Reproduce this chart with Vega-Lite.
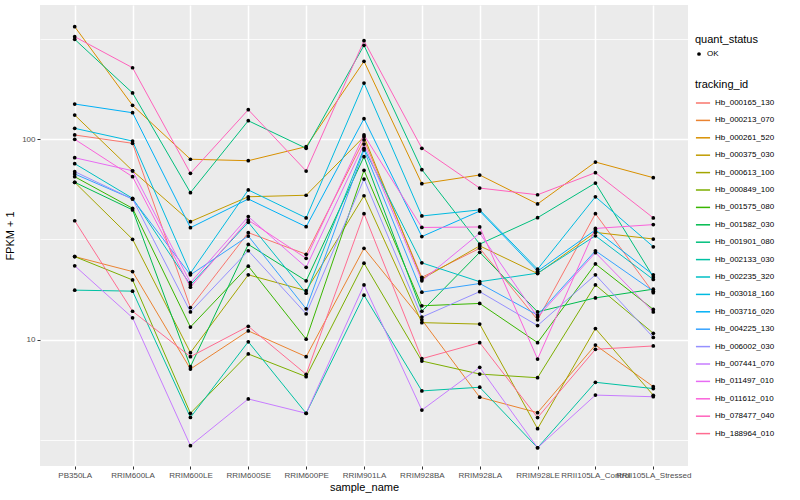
{
"$schema": "https://vega.github.io/schema/vega-lite/v6.json",
"width": 648, "height": 461,
"autosize": {"type": "none"},
"padding": {"left": 40, "top": 5, "right": 112, "bottom": 34},
"background": "white",
"config": {
  "font": "Liberation Sans",
  "view": {"fill": "#EBEBEB", "stroke": null},
  "axis": {"domain": false, "gridColor": "white", "tickColor": "#333333", "tickSize": 3, "labelColor": "#4D4D4D", "labelFontSize": 8, "titleFontSize": 11, "titleFontWeight": "normal", "titleColor": "black"},
  "legend": {"titleFontSize": 11, "titleFontWeight": "normal", "labelFontSize": 8, "labelColor": "black", "titleColor": "black"}
},
"data": {"values": [
{"tracking_id":"Hb_000165_130","sample_name":"PB350LA","fpkm":104.7,"quant_status":"OK"},
{"tracking_id":"Hb_000165_130","sample_name":"RRIM600LA","fpkm":95.2,"quant_status":"OK"},
{"tracking_id":"Hb_000165_130","sample_name":"RRIM600LE","fpkm":14.5,"quant_status":"OK"},
{"tracking_id":"Hb_000165_130","sample_name":"RRIM600SE","fpkm":34.2,"quant_status":"OK"},
{"tracking_id":"Hb_000165_130","sample_name":"RRIM600PE","fpkm":26.7,"quant_status":"OK"},
{"tracking_id":"Hb_000165_130","sample_name":"RRIM901LA","fpkm":98.9,"quant_status":"OK"},
{"tracking_id":"Hb_000165_130","sample_name":"RRIM928BA","fpkm":20.5,"quant_status":"OK"},
{"tracking_id":"Hb_000165_130","sample_name":"RRIM928LA","fpkm":28.6,"quant_status":"OK"},
{"tracking_id":"Hb_000165_130","sample_name":"RRIM928LE","fpkm":12.6,"quant_status":"OK"},
{"tracking_id":"Hb_000165_130","sample_name":"RRII105LA_Control","fpkm":42.5,"quant_status":"OK"},
{"tracking_id":"Hb_000165_130","sample_name":"RRII105LA_Stressed","fpkm":17.2,"quant_status":"OK"},
{"tracking_id":"Hb_000213_070","sample_name":"PB350LA","fpkm":26.0,"quant_status":"OK"},
{"tracking_id":"Hb_000213_070","sample_name":"RRIM600LA","fpkm":21.9,"quant_status":"OK"},
{"tracking_id":"Hb_000213_070","sample_name":"RRIM600LE","fpkm":7.17,"quant_status":"OK"},
{"tracking_id":"Hb_000213_070","sample_name":"RRIM600SE","fpkm":11.1,"quant_status":"OK"},
{"tracking_id":"Hb_000213_070","sample_name":"RRIM600PE","fpkm":8.26,"quant_status":"OK"},
{"tracking_id":"Hb_000213_070","sample_name":"RRIM901LA","fpkm":28.6,"quant_status":"OK"},
{"tracking_id":"Hb_000213_070","sample_name":"RRIM928BA","fpkm":12.6,"quant_status":"OK"},
{"tracking_id":"Hb_000213_070","sample_name":"RRIM928LA","fpkm":5.19,"quant_status":"OK"},
{"tracking_id":"Hb_000213_070","sample_name":"RRIM928LE","fpkm":4.35,"quant_status":"OK"},
{"tracking_id":"Hb_000213_070","sample_name":"RRII105LA_Control","fpkm":9.44,"quant_status":"OK"},
{"tracking_id":"Hb_000213_070","sample_name":"RRII105LA_Stressed","fpkm":5.86,"quant_status":"OK"},
{"tracking_id":"Hb_000261_520","sample_name":"PB350LA","fpkm":362,"quant_status":"OK"},
{"tracking_id":"Hb_000261_520","sample_name":"RRIM600LA","fpkm":147,"quant_status":"OK"},
{"tracking_id":"Hb_000261_520","sample_name":"RRIM600LE","fpkm":79.3,"quant_status":"OK"},
{"tracking_id":"Hb_000261_520","sample_name":"RRIM600SE","fpkm":78.0,"quant_status":"OK"},
{"tracking_id":"Hb_000261_520","sample_name":"RRIM600PE","fpkm":91.6,"quant_status":"OK"},
{"tracking_id":"Hb_000261_520","sample_name":"RRIM901LA","fpkm":243.6,"quant_status":"OK"},
{"tracking_id":"Hb_000261_520","sample_name":"RRIM928BA","fpkm":59.9,"quant_status":"OK"},
{"tracking_id":"Hb_000261_520","sample_name":"RRIM928LA","fpkm":66.2,"quant_status":"OK"},
{"tracking_id":"Hb_000261_520","sample_name":"RRIM928LE","fpkm":47.5,"quant_status":"OK"},
{"tracking_id":"Hb_000261_520","sample_name":"RRII105LA_Control","fpkm":76.8,"quant_status":"OK"},
{"tracking_id":"Hb_000261_520","sample_name":"RRII105LA_Stressed","fpkm":64.2,"quant_status":"OK"},
{"tracking_id":"Hb_000375_030","sample_name":"PB350LA","fpkm":131.6,"quant_status":"OK"},
{"tracking_id":"Hb_000375_030","sample_name":"RRIM600LA","fpkm":69.5,"quant_status":"OK"},
{"tracking_id":"Hb_000375_030","sample_name":"RRIM600LE","fpkm":38.8,"quant_status":"OK"},
{"tracking_id":"Hb_000375_030","sample_name":"RRIM600SE","fpkm":51.6,"quant_status":"OK"},
{"tracking_id":"Hb_000375_030","sample_name":"RRIM600PE","fpkm":52.5,"quant_status":"OK"},
{"tracking_id":"Hb_000375_030","sample_name":"RRIM901LA","fpkm":102.7,"quant_status":"OK"},
{"tracking_id":"Hb_000375_030","sample_name":"RRIM928BA","fpkm":20.1,"quant_status":"OK"},
{"tracking_id":"Hb_000375_030","sample_name":"RRIM928LA","fpkm":29.4,"quant_status":"OK"},
{"tracking_id":"Hb_000375_030","sample_name":"RRIM928LE","fpkm":21.4,"quant_status":"OK"},
{"tracking_id":"Hb_000375_030","sample_name":"RRII105LA_Control","fpkm":34.3,"quant_status":"OK"},
{"tracking_id":"Hb_000375_030","sample_name":"RRII105LA_Stressed","fpkm":31.8,"quant_status":"OK"},
{"tracking_id":"Hb_000613_100","sample_name":"PB350LA","fpkm":60.9,"quant_status":"OK"},
{"tracking_id":"Hb_000613_100","sample_name":"RRIM600LA","fpkm":31.7,"quant_status":"OK"},
{"tracking_id":"Hb_000613_100","sample_name":"RRIM600LE","fpkm":8.65,"quant_status":"OK"},
{"tracking_id":"Hb_000613_100","sample_name":"RRIM600SE","fpkm":21.1,"quant_status":"OK"},
{"tracking_id":"Hb_000613_100","sample_name":"RRIM600PE","fpkm":17.6,"quant_status":"OK"},
{"tracking_id":"Hb_000613_100","sample_name":"RRIM901LA","fpkm":52.2,"quant_status":"OK"},
{"tracking_id":"Hb_000613_100","sample_name":"RRIM928BA","fpkm":12.2,"quant_status":"OK"},
{"tracking_id":"Hb_000613_100","sample_name":"RRIM928LA","fpkm":12.0,"quant_status":"OK"},
{"tracking_id":"Hb_000613_100","sample_name":"RRIM928LE","fpkm":3.62,"quant_status":"OK"},
{"tracking_id":"Hb_000613_100","sample_name":"RRII105LA_Control","fpkm":11.4,"quant_status":"OK"},
{"tracking_id":"Hb_000613_100","sample_name":"RRII105LA_Stressed","fpkm":5.31,"quant_status":"OK"},
{"tracking_id":"Hb_000849_100","sample_name":"PB350LA","fpkm":26.0,"quant_status":"OK"},
{"tracking_id":"Hb_000849_100","sample_name":"RRIM600LA","fpkm":19.9,"quant_status":"OK"},
{"tracking_id":"Hb_000849_100","sample_name":"RRIM600LE","fpkm":4.32,"quant_status":"OK"},
{"tracking_id":"Hb_000849_100","sample_name":"RRIM600SE","fpkm":8.52,"quant_status":"OK"},
{"tracking_id":"Hb_000849_100","sample_name":"RRIM600PE","fpkm":6.57,"quant_status":"OK"},
{"tracking_id":"Hb_000849_100","sample_name":"RRIM901LA","fpkm":24.1,"quant_status":"OK"},
{"tracking_id":"Hb_000849_100","sample_name":"RRIM928BA","fpkm":7.86,"quant_status":"OK"},
{"tracking_id":"Hb_000849_100","sample_name":"RRIM928LA","fpkm":6.77,"quant_status":"OK"},
{"tracking_id":"Hb_000849_100","sample_name":"RRIM928LE","fpkm":6.49,"quant_status":"OK"},
{"tracking_id":"Hb_000849_100","sample_name":"RRII105LA_Control","fpkm":18.8,"quant_status":"OK"},
{"tracking_id":"Hb_000849_100","sample_name":"RRII105LA_Stressed","fpkm":10.8,"quant_status":"OK"},
{"tracking_id":"Hb_001575_080","sample_name":"PB350LA","fpkm":64.9,"quant_status":"OK"},
{"tracking_id":"Hb_001575_080","sample_name":"RRIM600LA","fpkm":45.2,"quant_status":"OK"},
{"tracking_id":"Hb_001575_080","sample_name":"RRIM600LE","fpkm":11.6,"quant_status":"OK"},
{"tracking_id":"Hb_001575_080","sample_name":"RRIM600SE","fpkm":23.3,"quant_status":"OK"},
{"tracking_id":"Hb_001575_080","sample_name":"RRIM600PE","fpkm":10.1,"quant_status":"OK"},
{"tracking_id":"Hb_001575_080","sample_name":"RRIM901LA","fpkm":69.9,"quant_status":"OK"},
{"tracking_id":"Hb_001575_080","sample_name":"RRIM928BA","fpkm":14.8,"quant_status":"OK"},
{"tracking_id":"Hb_001575_080","sample_name":"RRIM928LA","fpkm":15.2,"quant_status":"OK"},
{"tracking_id":"Hb_001575_080","sample_name":"RRIM928LE","fpkm":9.7,"quant_status":"OK"},
{"tracking_id":"Hb_001575_080","sample_name":"RRII105LA_Control","fpkm":23.9,"quant_status":"OK"},
{"tracking_id":"Hb_001575_080","sample_name":"RRII105LA_Stressed","fpkm":14.2,"quant_status":"OK"},
{"tracking_id":"Hb_001582_030","sample_name":"PB350LA","fpkm":60.9,"quant_status":"OK"},
{"tracking_id":"Hb_001582_030","sample_name":"RRIM600LA","fpkm":44.4,"quant_status":"OK"},
{"tracking_id":"Hb_001582_030","sample_name":"RRIM600LE","fpkm":7.37,"quant_status":"OK"},
{"tracking_id":"Hb_001582_030","sample_name":"RRIM600SE","fpkm":29.9,"quant_status":"OK"},
{"tracking_id":"Hb_001582_030","sample_name":"RRIM600PE","fpkm":19.7,"quant_status":"OK"},
{"tracking_id":"Hb_001582_030","sample_name":"RRIM901LA","fpkm":81.7,"quant_status":"OK"},
{"tracking_id":"Hb_001582_030","sample_name":"RRIM928BA","fpkm":13.9,"quant_status":"OK"},
{"tracking_id":"Hb_001582_030","sample_name":"RRIM928LA","fpkm":27.3,"quant_status":"OK"},
{"tracking_id":"Hb_001582_030","sample_name":"RRIM928LE","fpkm":13.8,"quant_status":"OK"},
{"tracking_id":"Hb_001582_030","sample_name":"RRII105LA_Control","fpkm":16.2,"quant_status":"OK"},
{"tracking_id":"Hb_001582_030","sample_name":"RRII105LA_Stressed","fpkm":17.9,"quant_status":"OK"},
{"tracking_id":"Hb_001901_080","sample_name":"PB350LA","fpkm":313.3,"quant_status":"OK"},
{"tracking_id":"Hb_001901_080","sample_name":"RRIM600LA","fpkm":169.4,"quant_status":"OK"},
{"tracking_id":"Hb_001901_080","sample_name":"RRIM600LE","fpkm":54.1,"quant_status":"OK"},
{"tracking_id":"Hb_001901_080","sample_name":"RRIM600SE","fpkm":123.3,"quant_status":"OK"},
{"tracking_id":"Hb_001901_080","sample_name":"RRIM600PE","fpkm":89.9,"quant_status":"OK"},
{"tracking_id":"Hb_001901_080","sample_name":"RRIM901LA","fpkm":292.5,"quant_status":"OK"},
{"tracking_id":"Hb_001901_080","sample_name":"RRIM928BA","fpkm":70.4,"quant_status":"OK"},
{"tracking_id":"Hb_001901_080","sample_name":"RRIM928LA","fpkm":30.0,"quant_status":"OK"},
{"tracking_id":"Hb_001901_080","sample_name":"RRIM928LE","fpkm":40.6,"quant_status":"OK"},
{"tracking_id":"Hb_001901_080","sample_name":"RRII105LA_Control","fpkm":60.4,"quant_status":"OK"},
{"tracking_id":"Hb_001901_080","sample_name":"RRII105LA_Stressed","fpkm":20.6,"quant_status":"OK"},
{"tracking_id":"Hb_002133_030","sample_name":"PB350LA","fpkm":17.7,"quant_status":"OK"},
{"tracking_id":"Hb_002133_030","sample_name":"RRIM600LA","fpkm":17.5,"quant_status":"OK"},
{"tracking_id":"Hb_002133_030","sample_name":"RRIM600LE","fpkm":4.12,"quant_status":"OK"},
{"tracking_id":"Hb_002133_030","sample_name":"RRIM600SE","fpkm":9.80,"quant_status":"OK"},
{"tracking_id":"Hb_002133_030","sample_name":"RRIM600PE","fpkm":4.32,"quant_status":"OK"},
{"tracking_id":"Hb_002133_030","sample_name":"RRIM901LA","fpkm":16.7,"quant_status":"OK"},
{"tracking_id":"Hb_002133_030","sample_name":"RRIM928BA","fpkm":5.58,"quant_status":"OK"},
{"tracking_id":"Hb_002133_030","sample_name":"RRIM928LA","fpkm":5.82,"quant_status":"OK"},
{"tracking_id":"Hb_002133_030","sample_name":"RRIM928LE","fpkm":2.91,"quant_status":"OK"},
{"tracking_id":"Hb_002133_030","sample_name":"RRII105LA_Control","fpkm":6.16,"quant_status":"OK"},
{"tracking_id":"Hb_002133_030","sample_name":"RRII105LA_Stressed","fpkm":5.73,"quant_status":"OK"},
{"tracking_id":"Hb_002235_320","sample_name":"PB350LA","fpkm":75.4,"quant_status":"OK"},
{"tracking_id":"Hb_002235_320","sample_name":"RRIM600LA","fpkm":50.7,"quant_status":"OK"},
{"tracking_id":"Hb_002235_320","sample_name":"RRIM600LE","fpkm":18.8,"quant_status":"OK"},
{"tracking_id":"Hb_002235_320","sample_name":"RRIM600SE","fpkm":38.5,"quant_status":"OK"},
{"tracking_id":"Hb_002235_320","sample_name":"RRIM600PE","fpkm":17.1,"quant_status":"OK"},
{"tracking_id":"Hb_002235_320","sample_name":"RRIM901LA","fpkm":89.9,"quant_status":"OK"},
{"tracking_id":"Hb_002235_320","sample_name":"RRIM928BA","fpkm":24.2,"quant_status":"OK"},
{"tracking_id":"Hb_002235_320","sample_name":"RRIM928LA","fpkm":19.5,"quant_status":"OK"},
{"tracking_id":"Hb_002235_320","sample_name":"RRIM928LE","fpkm":21.5,"quant_status":"OK"},
{"tracking_id":"Hb_002235_320","sample_name":"RRII105LA_Control","fpkm":33.0,"quant_status":"OK"},
{"tracking_id":"Hb_002235_320","sample_name":"RRII105LA_Stressed","fpkm":20.0,"quant_status":"OK"},
{"tracking_id":"Hb_003018_160","sample_name":"PB350LA","fpkm":113.0,"quant_status":"OK"},
{"tracking_id":"Hb_003018_160","sample_name":"RRIM600LA","fpkm":97.7,"quant_status":"OK"},
{"tracking_id":"Hb_003018_160","sample_name":"RRIM600LE","fpkm":21.5,"quant_status":"OK"},
{"tracking_id":"Hb_003018_160","sample_name":"RRIM600SE","fpkm":55.8,"quant_status":"OK"},
{"tracking_id":"Hb_003018_160","sample_name":"RRIM600PE","fpkm":40.5,"quant_status":"OK"},
{"tracking_id":"Hb_003018_160","sample_name":"RRIM901LA","fpkm":189.9,"quant_status":"OK"},
{"tracking_id":"Hb_003018_160","sample_name":"RRIM928BA","fpkm":41.4,"quant_status":"OK"},
{"tracking_id":"Hb_003018_160","sample_name":"RRIM928LA","fpkm":44.4,"quant_status":"OK"},
{"tracking_id":"Hb_003018_160","sample_name":"RRIM928LE","fpkm":22.5,"quant_status":"OK"},
{"tracking_id":"Hb_003018_160","sample_name":"RRII105LA_Control","fpkm":51.6,"quant_status":"OK"},
{"tracking_id":"Hb_003018_160","sample_name":"RRII105LA_Stressed","fpkm":29.1,"quant_status":"OK"},
{"tracking_id":"Hb_003716_020","sample_name":"PB350LA","fpkm":149.3,"quant_status":"OK"},
{"tracking_id":"Hb_003716_020","sample_name":"RRIM600LA","fpkm":135.1,"quant_status":"OK"},
{"tracking_id":"Hb_003716_020","sample_name":"RRIM600LE","fpkm":36.2,"quant_status":"OK"},
{"tracking_id":"Hb_003716_020","sample_name":"RRIM600SE","fpkm":50.3,"quant_status":"OK"},
{"tracking_id":"Hb_003716_020","sample_name":"RRIM600PE","fpkm":36.6,"quant_status":"OK"},
{"tracking_id":"Hb_003716_020","sample_name":"RRIM901LA","fpkm":126.2,"quant_status":"OK"},
{"tracking_id":"Hb_003716_020","sample_name":"RRIM928BA","fpkm":32.7,"quant_status":"OK"},
{"tracking_id":"Hb_003716_020","sample_name":"RRIM928LA","fpkm":43.8,"quant_status":"OK"},
{"tracking_id":"Hb_003716_020","sample_name":"RRIM928LE","fpkm":22.0,"quant_status":"OK"},
{"tracking_id":"Hb_003716_020","sample_name":"RRII105LA_Control","fpkm":35.3,"quant_status":"OK"},
{"tracking_id":"Hb_003716_020","sample_name":"RRII105LA_Stressed","fpkm":21.1,"quant_status":"OK"},
{"tracking_id":"Hb_004225_130","sample_name":"PB350LA","fpkm":67.0,"quant_status":"OK"},
{"tracking_id":"Hb_004225_130","sample_name":"RRIM600LA","fpkm":50.3,"quant_status":"OK"},
{"tracking_id":"Hb_004225_130","sample_name":"RRIM600LE","fpkm":21.1,"quant_status":"OK"},
{"tracking_id":"Hb_004225_130","sample_name":"RRIM600SE","fpkm":32.9,"quant_status":"OK"},
{"tracking_id":"Hb_004225_130","sample_name":"RRIM600PE","fpkm":14.3,"quant_status":"OK"},
{"tracking_id":"Hb_004225_130","sample_name":"RRIM901LA","fpkm":88.2,"quant_status":"OK"},
{"tracking_id":"Hb_004225_130","sample_name":"RRIM928BA","fpkm":17.3,"quant_status":"OK"},
{"tracking_id":"Hb_004225_130","sample_name":"RRIM928LA","fpkm":19.1,"quant_status":"OK"},
{"tracking_id":"Hb_004225_130","sample_name":"RRIM928LE","fpkm":13.3,"quant_status":"OK"},
{"tracking_id":"Hb_004225_130","sample_name":"RRII105LA_Control","fpkm":27.8,"quant_status":"OK"},
{"tracking_id":"Hb_004225_130","sample_name":"RRII105LA_Stressed","fpkm":17.5,"quant_status":"OK"},
{"tracking_id":"Hb_006002_030","sample_name":"PB350LA","fpkm":68.8,"quant_status":"OK"},
{"tracking_id":"Hb_006002_030","sample_name":"RRIM600LA","fpkm":50.3,"quant_status":"OK"},
{"tracking_id":"Hb_006002_030","sample_name":"RRIM600LE","fpkm":13.8,"quant_status":"OK"},
{"tracking_id":"Hb_006002_030","sample_name":"RRIM600SE","fpkm":27.8,"quant_status":"OK"},
{"tracking_id":"Hb_006002_030","sample_name":"RRIM600PE","fpkm":13.5,"quant_status":"OK"},
{"tracking_id":"Hb_006002_030","sample_name":"RRIM901LA","fpkm":63.2,"quant_status":"OK"},
{"tracking_id":"Hb_006002_030","sample_name":"RRIM928BA","fpkm":13.0,"quant_status":"OK"},
{"tracking_id":"Hb_006002_030","sample_name":"RRIM928LA","fpkm":17.4,"quant_status":"OK"},
{"tracking_id":"Hb_006002_030","sample_name":"RRIM928LE","fpkm":11.8,"quant_status":"OK"},
{"tracking_id":"Hb_006002_030","sample_name":"RRII105LA_Control","fpkm":21.1,"quant_status":"OK"},
{"tracking_id":"Hb_006002_030","sample_name":"RRII105LA_Stressed","fpkm":10.3,"quant_status":"OK"},
{"tracking_id":"Hb_007441_070","sample_name":"PB350LA","fpkm":23.4,"quant_status":"OK"},
{"tracking_id":"Hb_007441_070","sample_name":"RRIM600LA","fpkm":12.9,"quant_status":"OK"},
{"tracking_id":"Hb_007441_070","sample_name":"RRIM600LE","fpkm":2.98,"quant_status":"OK"},
{"tracking_id":"Hb_007441_070","sample_name":"RRIM600SE","fpkm":5.09,"quant_status":"OK"},
{"tracking_id":"Hb_007441_070","sample_name":"RRIM600PE","fpkm":4.32,"quant_status":"OK"},
{"tracking_id":"Hb_007441_070","sample_name":"RRIM901LA","fpkm":18.8,"quant_status":"OK"},
{"tracking_id":"Hb_007441_070","sample_name":"RRIM928BA","fpkm":4.48,"quant_status":"OK"},
{"tracking_id":"Hb_007441_070","sample_name":"RRIM928LA","fpkm":7.31,"quant_status":"OK"},
{"tracking_id":"Hb_007441_070","sample_name":"RRIM928LE","fpkm":2.91,"quant_status":"OK"},
{"tracking_id":"Hb_007441_070","sample_name":"RRII105LA_Control","fpkm":5.32,"quant_status":"OK"},
{"tracking_id":"Hb_007441_070","sample_name":"RRII105LA_Stressed","fpkm":5.22,"quant_status":"OK"},
{"tracking_id":"Hb_011497_010","sample_name":"PB350LA","fpkm":80.7,"quant_status":"OK"},
{"tracking_id":"Hb_011497_010","sample_name":"RRIM600LA","fpkm":69.5,"quant_status":"OK"},
{"tracking_id":"Hb_011497_010","sample_name":"RRIM600LE","fpkm":19.3,"quant_status":"OK"},
{"tracking_id":"Hb_011497_010","sample_name":"RRIM600SE","fpkm":41.1,"quant_status":"OK"},
{"tracking_id":"Hb_011497_010","sample_name":"RRIM600PE","fpkm":23.0,"quant_status":"OK"},
{"tracking_id":"Hb_011497_010","sample_name":"RRIM901LA","fpkm":94.4,"quant_status":"OK"},
{"tracking_id":"Hb_011497_010","sample_name":"RRIM928BA","fpkm":19.7,"quant_status":"OK"},
{"tracking_id":"Hb_011497_010","sample_name":"RRIM928LA","fpkm":34.0,"quant_status":"OK"},
{"tracking_id":"Hb_011497_010","sample_name":"RRIM928LE","fpkm":13.0,"quant_status":"OK"},
{"tracking_id":"Hb_011497_010","sample_name":"RRII105LA_Control","fpkm":27.2,"quant_status":"OK"},
{"tracking_id":"Hb_011497_010","sample_name":"RRII105LA_Stressed","fpkm":13.8,"quant_status":"OK"},
{"tracking_id":"Hb_011612_010","sample_name":"PB350LA","fpkm":99.7,"quant_status":"OK"},
{"tracking_id":"Hb_011612_010","sample_name":"RRIM600LA","fpkm":64.9,"quant_status":"OK"},
{"tracking_id":"Hb_011612_010","sample_name":"RRIM600LE","fpkm":18.3,"quant_status":"OK"},
{"tracking_id":"Hb_011612_010","sample_name":"RRIM600SE","fpkm":39.5,"quant_status":"OK"},
{"tracking_id":"Hb_011612_010","sample_name":"RRIM600PE","fpkm":25.5,"quant_status":"OK"},
{"tracking_id":"Hb_011612_010","sample_name":"RRIM901LA","fpkm":104.7,"quant_status":"OK"},
{"tracking_id":"Hb_011612_010","sample_name":"RRIM928BA","fpkm":36.3,"quant_status":"OK"},
{"tracking_id":"Hb_011612_010","sample_name":"RRIM928LA","fpkm":36.5,"quant_status":"OK"},
{"tracking_id":"Hb_011612_010","sample_name":"RRIM928LE","fpkm":8.04,"quant_status":"OK"},
{"tracking_id":"Hb_011612_010","sample_name":"RRII105LA_Control","fpkm":35.9,"quant_status":"OK"},
{"tracking_id":"Hb_011612_010","sample_name":"RRII105LA_Stressed","fpkm":37.5,"quant_status":"OK"},
{"tracking_id":"Hb_078477_040","sample_name":"PB350LA","fpkm":322.8,"quant_status":"OK"},
{"tracking_id":"Hb_078477_040","sample_name":"RRIM600LA","fpkm":226.2,"quant_status":"OK"},
{"tracking_id":"Hb_078477_040","sample_name":"RRIM600LE","fpkm":67.5,"quant_status":"OK"},
{"tracking_id":"Hb_078477_040","sample_name":"RRIM600SE","fpkm":139.9,"quant_status":"OK"},
{"tracking_id":"Hb_078477_040","sample_name":"RRIM600PE","fpkm":69.3,"quant_status":"OK"},
{"tracking_id":"Hb_078477_040","sample_name":"RRIM901LA","fpkm":308.3,"quant_status":"OK"},
{"tracking_id":"Hb_078477_040","sample_name":"RRIM928BA","fpkm":89.9,"quant_status":"OK"},
{"tracking_id":"Hb_078477_040","sample_name":"RRIM928LA","fpkm":57.0,"quant_status":"OK"},
{"tracking_id":"Hb_078477_040","sample_name":"RRIM928LE","fpkm":52.8,"quant_status":"OK"},
{"tracking_id":"Hb_078477_040","sample_name":"RRII105LA_Control","fpkm":68.0,"quant_status":"OK"},
{"tracking_id":"Hb_078477_040","sample_name":"RRII105LA_Stressed","fpkm":40.5,"quant_status":"OK"},
{"tracking_id":"Hb_188964_010","sample_name":"PB350LA","fpkm":39.2,"quant_status":"OK"},
{"tracking_id":"Hb_188964_010","sample_name":"RRIM600LA","fpkm":13.9,"quant_status":"OK"},
{"tracking_id":"Hb_188964_010","sample_name":"RRIM600LE","fpkm":8.26,"quant_status":"OK"},
{"tracking_id":"Hb_188964_010","sample_name":"RRIM600SE","fpkm":11.7,"quant_status":"OK"},
{"tracking_id":"Hb_188964_010","sample_name":"RRIM600PE","fpkm":6.75,"quant_status":"OK"},
{"tracking_id":"Hb_188964_010","sample_name":"RRIM901LA","fpkm":42.5,"quant_status":"OK"},
{"tracking_id":"Hb_188964_010","sample_name":"RRIM928BA","fpkm":8.07,"quant_status":"OK"},
{"tracking_id":"Hb_188964_010","sample_name":"RRIM928LA","fpkm":9.7,"quant_status":"OK"},
{"tracking_id":"Hb_188964_010","sample_name":"RRIM928LE","fpkm":4.11,"quant_status":"OK"},
{"tracking_id":"Hb_188964_010","sample_name":"RRII105LA_Control","fpkm":8.99,"quant_status":"OK"},
{"tracking_id":"Hb_188964_010","sample_name":"RRII105LA_Stressed","fpkm":9.34,"quant_status":"OK"}
]},
"encoding": {
  "x": {"field": "sample_name", "type": "nominal",
    "sort": ["PB350LA","RRIM600LA","RRIM600LE","RRIM600SE","RRIM600PE","RRIM901LA","RRIM928BA","RRIM928LA","RRIM928LE","RRII105LA_Control","RRII105LA_Stressed"],
    "scale": {"type": "point", "padding": 0.6},
    "axis": {"title": "sample_name", "labelAngle": 0, "labelOverlap": false, "labelBound": false, "labelPadding": 2, "titlePadding": 2, "grid": true, "gridWidth": 1.5}},
  "y": {"field": "fpkm", "type": "quantitative",
    "scale": {"type": "log", "domain": [2.361, 464.2], "nice": false, "zero": false},
    "axis": {"title": "FPKM + 1", "values": [3.1623, 10, 31.623, 100, 316.23],
      "labelExpr": "datum.value == 10 || datum.value == 100 ? datum.label : ''",
      "gridWidth": {"condition": {"test": "datum.value == 10 || datum.value == 100", "value": 1.5}, "value": 0.8},
      "tickOpacity": {"condition": {"test": "datum.value == 10 || datum.value == 100", "value": 1}, "value": 0},
      "labelPadding": 2, "titlePadding": 6}}
},
"layer": [
  {"mark": {"type": "line", "strokeWidth": 1},
   "encoding": {"color": {"field": "tracking_id", "type": "nominal", "title": "tracking_id",
     "scale": {"range": ["#F8766D","#EA8331","#D89000","#C09B00","#A3A500","#7CAE00","#39B600","#00BB4E","#00BF7D","#00C1A3","#00BFC4","#00BAE0","#00B0F6","#35A2FF","#9590FF","#C77CFF","#E76BF3","#FA62DB","#FF62BC","#FF6C91"]},
     "legend": {"orient": "none", "legendX": 655, "legendY": 74, "symbolType": "stroke", "symbolStrokeWidth": 1.5, "symbolSize": 200, "rowPadding": 5.4, "labelFontSize": 8}}}},
  {"mark": {"type": "point", "filled": true, "color": "black", "size": 14, "opacity": 1},
   "encoding": {"shape": {"field": "quant_status", "type": "nominal", "title": "quant_status",
     "scale": {"range": ["circle"]}, "legend": {"orient": "none", "legendX": 655, "legendY": 29, "symbolFillColor": "black", "symbolStrokeColor": "black", "symbolSize": 14}},
     "detail": {"field": "tracking_id"}}}
]
}
